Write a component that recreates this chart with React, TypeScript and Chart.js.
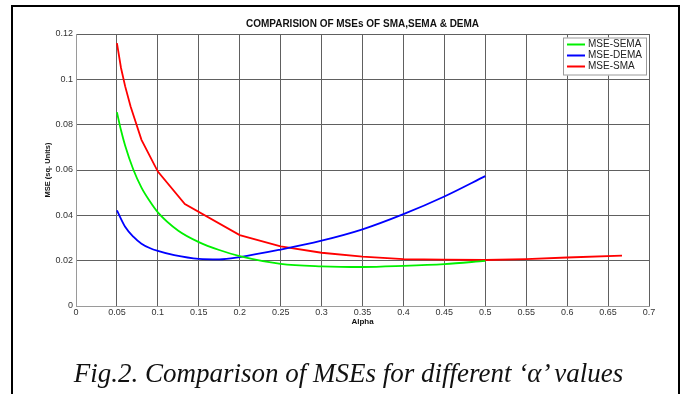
import React, { useEffect, useRef } from 'react';
import { Chart, registerables } from 'chart.js';

Chart.register(...registerables);

const CHART_TITLE = 'COMPARISION OF MSEs OF SMA,SEMA & DEMA';
const X_TITLE = 'Alpha';
const Y_TITLE = 'MSE (sq. Units)';
const CAPTION = 'Fig.2. Comparison of MSEs for different \u2018\u03b1\u2019 values';

const X_TICK_VALUES = [0, 0.05, 0.1, 0.15, 0.2, 0.25, 0.3, 0.35, 0.4, 0.45, 0.5, 0.55, 0.6, 0.65, 0.7];
const X_TICK_LABELS = ['0', '0.05', '0.1', '0.15', '0.2', '0.25', '0.3', '0.35', '0.4', '0.45', '0.5', '0.55', '0.6', '0.65', '0.7'];
const Y_TICK_VALUES = [0, 0.02, 0.04, 0.06, 0.08, 0.1, 0.12];
const Y_TICK_LABELS = ['0', '0.02', '0.04', '0.06', '0.08', '0.1', '0.12'];

const SERIES_NAMES = ['MSE-SEMA', 'MSE-DEMA', 'MSE-SMA'];
const SERIES_COLORS = ['#00f000', '#0000ff', '#ff0000'];

const SEMA_ALPHA = [0.05, 0.055, 0.06, 0.07, 0.08, 0.09, 0.1, 0.125, 0.15, 0.175, 0.2, 0.25, 0.3, 0.35, 0.4, 0.45, 0.5];
const SEMA_MSE = [0.0855, 0.0775, 0.0708, 0.0602, 0.0522, 0.0463, 0.0413, 0.0332, 0.0282, 0.0247, 0.022, 0.0186, 0.0175, 0.0172, 0.0177, 0.0185, 0.0199];

const DEMA_ALPHA = [0.05, 0.06, 0.07, 0.08, 0.09, 0.1, 0.12, 0.15, 0.175, 0.2, 0.25, 0.3, 0.35, 0.4, 0.45, 0.5];
const DEMA_MSE = [0.0422, 0.035, 0.0306, 0.0275, 0.0256, 0.0243, 0.0224, 0.0208, 0.0206, 0.0216, 0.0249, 0.0288, 0.0338, 0.0405, 0.0483, 0.0573];

const SMA_ALPHA = [0.05, 0.055, 0.06, 0.0667, 0.08, 0.1, 0.133, 0.2, 0.25, 0.3, 0.35, 0.4, 0.45, 0.5, 0.55, 0.6, 0.667];
const SMA_MSE = [0.116, 0.105, 0.097, 0.088, 0.0733, 0.0593, 0.045, 0.0313, 0.0263, 0.0235, 0.0218, 0.0207, 0.0205, 0.0203, 0.0207, 0.0214, 0.0222];

const FONT = 'Liberation Sans, Arial, sans-serif';

const centerTitleOnPlot = {
  id: 'centerTitleOnPlot',
  afterLayout(chart: any) {
    const tb = chart.titleBlock;
    if (tb) {
      tb.left = chart.chartArea.left;
      tb.right = chart.chartArea.right;
      tb.width = tb.right - tb.left;
    }
  },
};

const boxLegend = {
  id: 'boxLegend',
  afterDraw(chart: any) {
    const ctx = chart.ctx;
    const area = chart.chartArea;
    const right = area.right - 2;
    const top = area.top + 3.5;
    const w = 84;
    const rowH = 11;
    const h = 38;
    const left = right - w;
    ctx.save();
    ctx.fillStyle = '#ffffff';
    ctx.fillRect(left, top, w, h);
    ctx.strokeStyle = '#9a9a9a';
    ctx.lineWidth = 1;
    ctx.strokeRect(left + 0.5, top + 0.5, w - 1, h - 1);
    ctx.font = `10px ${FONT}`;
    ctx.textBaseline = 'middle';
    ctx.textAlign = 'left';
    chart.data.datasets.forEach((ds: any, i: number) => {
      const y = top + 7 + i * rowH;
      ctx.strokeStyle = ds.borderColor;
      ctx.lineWidth = 2;
      ctx.beginPath();
      ctx.moveTo(left + 4, y);
      ctx.lineTo(left + 22, y);
      ctx.stroke();
      ctx.fillStyle = '#222';
      ctx.fillText(ds.label, left + 25, y);
    });
    ctx.restore();
  },
};

function toPoints(xs: number[], ys: number[]) {
  return xs.map((x, i) => ({ x, y: ys[i] }));
}

export default function App() {
  const ref = useRef<HTMLCanvasElement | null>(null);
  useEffect(() => {
    if (!ref.current) return;
    const chart = new Chart(ref.current, {
      type: 'scatter',
      data: {
        datasets: [
          { label: SERIES_NAMES[0], data: toPoints(SEMA_ALPHA, SEMA_MSE), borderColor: SERIES_COLORS[0], cubicInterpolationMode: 'monotone' },
          { label: SERIES_NAMES[1], data: toPoints(DEMA_ALPHA, DEMA_MSE), borderColor: SERIES_COLORS[1], cubicInterpolationMode: 'monotone' },
          { label: SERIES_NAMES[2], data: toPoints(SMA_ALPHA, SMA_MSE), borderColor: SERIES_COLORS[2], tension: 0 },
        ].map((d: any) => ({ ...d, showLine: true, pointRadius: 0, borderWidth: 1.8, backgroundColor: d.borderColor })),
      },
      options: {
        responsive: false,
        animation: false,
        events: [],
        layout: { padding: { left: 43, top: 10, right: 34, bottom: 67 } },
        plugins: {
          legend: { display: false },
          tooltip: { enabled: false },
          title: {
            display: true,
            text: CHART_TITLE,
            color: '#111',
            font: { family: FONT, size: 10, weight: 'bold' },
            padding: { top: 8.5, bottom: 3.5 },
          },
        },
        scales: {
          x: {
            type: 'linear',
            min: 0,
            max: 0.7,
            afterBuildTicks: (s: any) => { s.ticks = X_TICK_VALUES.map((v) => ({ value: v })); },
            afterFit: (s: any) => { s.height = 21; },
            grid: { color: '#606060', lineWidth: 1, drawTicks: false },
            border: { color: '#9a9a9a', width: 1 },
            ticks: {
              autoSkip: false,
              maxRotation: 0,
              padding: 1,
              color: '#333',
              font: { family: FONT, size: 9 },
              callback: (_v: any, i: number) => X_TICK_LABELS[i],
            },
            title: {
              display: true,
              text: X_TITLE,
              color: '#111',
              font: { family: FONT, size: 8, weight: 'bold' },
              padding: 0,
            },
          },
          y: {
            type: 'linear',
            min: 0,
            max: 0.12,
            afterBuildTicks: (s: any) => { s.ticks = Y_TICK_VALUES.map((v) => ({ value: v })); },
            afterFit: (s: any) => { s.width = 33; },
            grid: { color: '#606060', lineWidth: 1, drawTicks: false },
            border: { color: '#9a9a9a', width: 1 },
            ticks: {
              autoSkip: false,
              padding: 3,
              color: '#333',
              font: { family: FONT, size: 9 },
              callback: (_v: any, i: number) => Y_TICK_LABELS[i],
            },
            title: {
              display: true,
              text: Y_TITLE,
              color: '#111',
              font: { family: FONT, size: 7.5, weight: 'bold' },
              padding: 0,
            },
          },
        },
      } as any,
      plugins: [centerTitleOnPlot, boxLegend],
    });
    return () => chart.destroy();
  }, []);

  return (
    <div style={{ position: 'absolute', left: 0, top: 0, width: 683, height: 394, overflow: 'hidden', background: '#fff' }}>
      <div
        style={{
          position: 'absolute',
          left: 11,
          top: 5,
          width: 665,
          height: 400,
          border: '2px solid #000',
        }}
      />
      <canvas ref={ref} width={683} height={394} style={{ position: 'absolute', left: 0, top: 0, width: 683, height: 394 }} />
      <div
        style={{
          position: 'absolute',
          left: 14,
          top: 360,
          width: 669,
          textAlign: 'center',
          fontFamily: '"Liberation Serif", "Times New Roman", serif',
          fontStyle: 'italic',
          fontSize: 27,
          lineHeight: '27px',
          color: '#111',
          whiteSpace: 'nowrap',
        }}
      >
        {CAPTION}
      </div>
    </div>
  );
}
